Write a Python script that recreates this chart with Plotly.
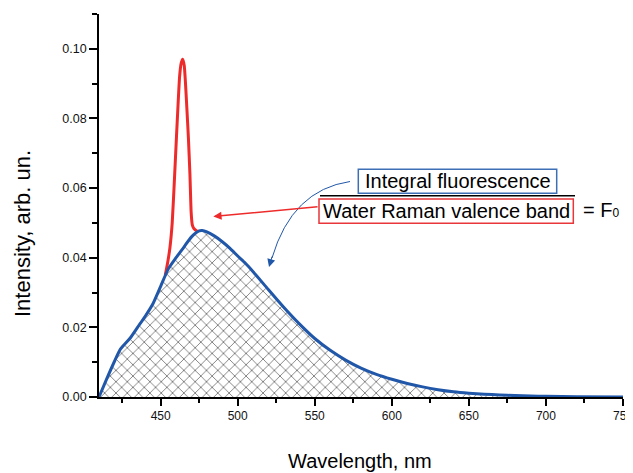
import plotly.graph_objects as go

# ---- data ----
wl_fluor = [410, 415, 420, 424, 430, 435, 440, 445, 450, 455, 460, 465, 470, 475, 477,
            480, 485, 490, 495, 500, 505, 510, 520, 530, 540, 550, 560, 570, 580, 590,
            600, 610, 620, 630, 640, 650, 660, 670, 680, 690, 700, 720, 750]
int_fluor = [0.0, 0.0052, 0.0102, 0.0138, 0.0168, 0.0200, 0.0232, 0.0268, 0.0318, 0.0368,
             0.0400, 0.0430, 0.0460, 0.0477, 0.0478, 0.0474, 0.0462, 0.0446, 0.0427, 0.0405,
             0.0384, 0.0360, 0.0308, 0.0257, 0.0210, 0.0168, 0.0134, 0.0106, 0.0083, 0.0065,
             0.0051, 0.0039, 0.0029, 0.0021, 0.0015, 0.0011, 0.0008, 0.0006, 0.0004, 0.0003,
             0.0002, 0.0001, 0.0]

wl_raman = [453, 454.5, 456, 457.5, 459, 460.3, 461.3, 462.3, 463.3, 464.3, 465.3, 466, 467,
            468, 469, 469.8, 470.5, 471.5, 473, 474]
int_raman = [0.0350, 0.0385, 0.0428, 0.0500, 0.0630, 0.0750, 0.0840, 0.0920, 0.0958, 0.0970,
             0.0952, 0.0910, 0.0830, 0.0745, 0.0640, 0.0530, 0.0495, 0.0484, 0.0478, 0.0476]

x_ticks = [450, 500, 550, 600, 650, 700, 750]
y_ticks = [0.00, 0.02, 0.04, 0.06, 0.08, 0.10]
y_tick_labels = ["0.00", "0.02", "0.04", "0.06", "0.08", "0.10"]

x_title = "Wavelength, nm"
y_title = "Intensity, arb. un."
label_top = "Integral fluorescence"
label_bottom = "Water Raman valence band"

BLUE = "#2157a8"
RED = "#ee2b2b"
FONT = "Arial, Liberation Sans, sans-serif"

# the page body adds an 8px offset; plot area placed to match the reference
OFF = 8
W, H = 640, 465
ML, MR, MT, MB = 91, 25, 6, 76
PW, PH = W - ML - MR, H - MT - MB


def px(x):
    """reference-picture x pixel -> paper fraction"""
    return (x - OFF - ML) / PW


def py(y):
    """reference-picture y pixel -> paper fraction"""
    return (H - MB - (y - OFF)) / PH


fig = go.Figure()

# hatched area under fluorescence
fig.add_trace(go.Scatter(
    x=wl_fluor, y=int_fluor, mode="lines", line=dict(width=0, shape="spline", smoothing=0.6),
    fill="tozeroy", fillcolor="rgba(255,255,255,0)",
    fillpattern=dict(shape="x", fgcolor="#000000", bgcolor="white", size=8, solidity=0.22),
    hoverinfo="skip", showlegend=False))

# Raman peak
fig.add_trace(go.Scatter(
    x=wl_raman, y=int_raman, mode="lines",
    line=dict(color=RED, width=3, shape="spline", smoothing=0.5), showlegend=False))

# fluorescence contour
fig.add_trace(go.Scatter(
    x=wl_fluor, y=int_fluor, mode="lines",
    line=dict(color=BLUE, width=3, shape="spline", smoothing=0.6), showlegend=False))

shapes = [
    dict(type="rect", xref="paper", yref="paper", x0=px(358.3), x1=px(556.7),
         y0=py(193.3), y1=py(169.3), line=dict(color="#3d6fb6", width=1.5)),
    dict(type="rect", xref="paper", yref="paper", x0=px(319), x1=px(573.3),
         y0=py(223.3), y1=py(199), line=dict(color="#e8363a", width=1.5)),
    dict(type="line", xref="paper", yref="paper", x0=px(320), x1=px(575),
         y0=py(195.8), y1=py(195.8), line=dict(color="black", width=1.6)),
    dict(type="path", xref="paper", yref="paper",
         path="M %f,%f Q %f,%f %f,%f" % (px(350), py(181.5), px(292), py(190),
                                          px(272), py(258)),
         line=dict(color=BLUE, width=1)),
]

annotations = [
    dict(text=label_top, xref="paper", yref="paper", x=px(457.5), y=py(181.3),
         showarrow=False, font=dict(family=FONT, size=20, color="black"),
         xanchor="center", yanchor="middle"),
    dict(text=label_bottom, xref="paper", yref="paper", x=px(446.2), y=py(211.2),
         showarrow=False, font=dict(family=FONT, size=20, color="black"),
         xanchor="center", yanchor="middle"),
    dict(text="= F<span style='font-size:12px'>0</span>", xref="paper", yref="paper",
         x=px(581), y=py(210.5), showarrow=False,
         font=dict(family=FONT, size=20, color="black"), xanchor="left", yanchor="middle"),
    # red arrow
    dict(text="", xref="paper", yref="paper", x=px(213.3), y=py(216.5),
         ax=105.7, ay=-9.8, showarrow=True, arrowhead=2, arrowsize=1.1,
         arrowwidth=1.5, arrowcolor=RED, standoff=0, startstandoff=0),
    # blue arrow head
    dict(text="", xref="paper", yref="paper", x=px(269), y=py(267),
         ax=3.5, ay=-12, showarrow=True, arrowhead=2, arrowsize=1.6,
         arrowwidth=1, arrowcolor=BLUE, standoff=0, startstandoff=0),
    # axis titles
    dict(text=x_title, xref="paper", yref="paper", x=px(360), y=py(461),
         showarrow=False, font=dict(family=FONT, size=20, color="black"),
         xanchor="center", yanchor="middle"),
    dict(text=y_title, xref="paper", yref="paper", x=px(22), y=py(234),
         showarrow=False, textangle=-90, font=dict(family=FONT, size=22, color="black"),
         xanchor="center", yanchor="middle"),
]

fig.update_layout(
    width=W, height=H,
    margin=dict(l=ML, r=MR, t=MT, b=MB),
    paper_bgcolor="white", plot_bgcolor="white",
    showlegend=False,
    font=dict(family=FONT, size=12, color="#111111"),
    shapes=shapes, annotations=annotations,
    xaxis=dict(range=[410, 750], tickvals=x_ticks, ticktext=[str(v) for v in x_ticks],
               showgrid=False, zeroline=False, showline=True, linecolor="black",
               linewidth=1.6, ticks="outside", ticklen=7, tickwidth=1.5, tickcolor="black",
               tickfont=dict(size=12), ticklabeloverflow="allow",
               minor=dict(dtick=25, tick0=400, ticks="outside", ticklen=4, tickwidth=1.5,
                          tickcolor="black", showgrid=False)),
    yaxis=dict(range=[0, 0.11], tickvals=y_ticks, ticktext=y_tick_labels,
               showgrid=False, zeroline=False, showline=True, linecolor="black",
               linewidth=1.6, ticks="outside", ticklen=8, tickwidth=1.5, tickcolor="black",
               tickfont=dict(size=12.5),
               minor=dict(dtick=0.01, tick0=0, ticks="outside", ticklen=5, tickwidth=1.5,
                          tickcolor="black", showgrid=False)),
)

fig.write_html("out.html")
